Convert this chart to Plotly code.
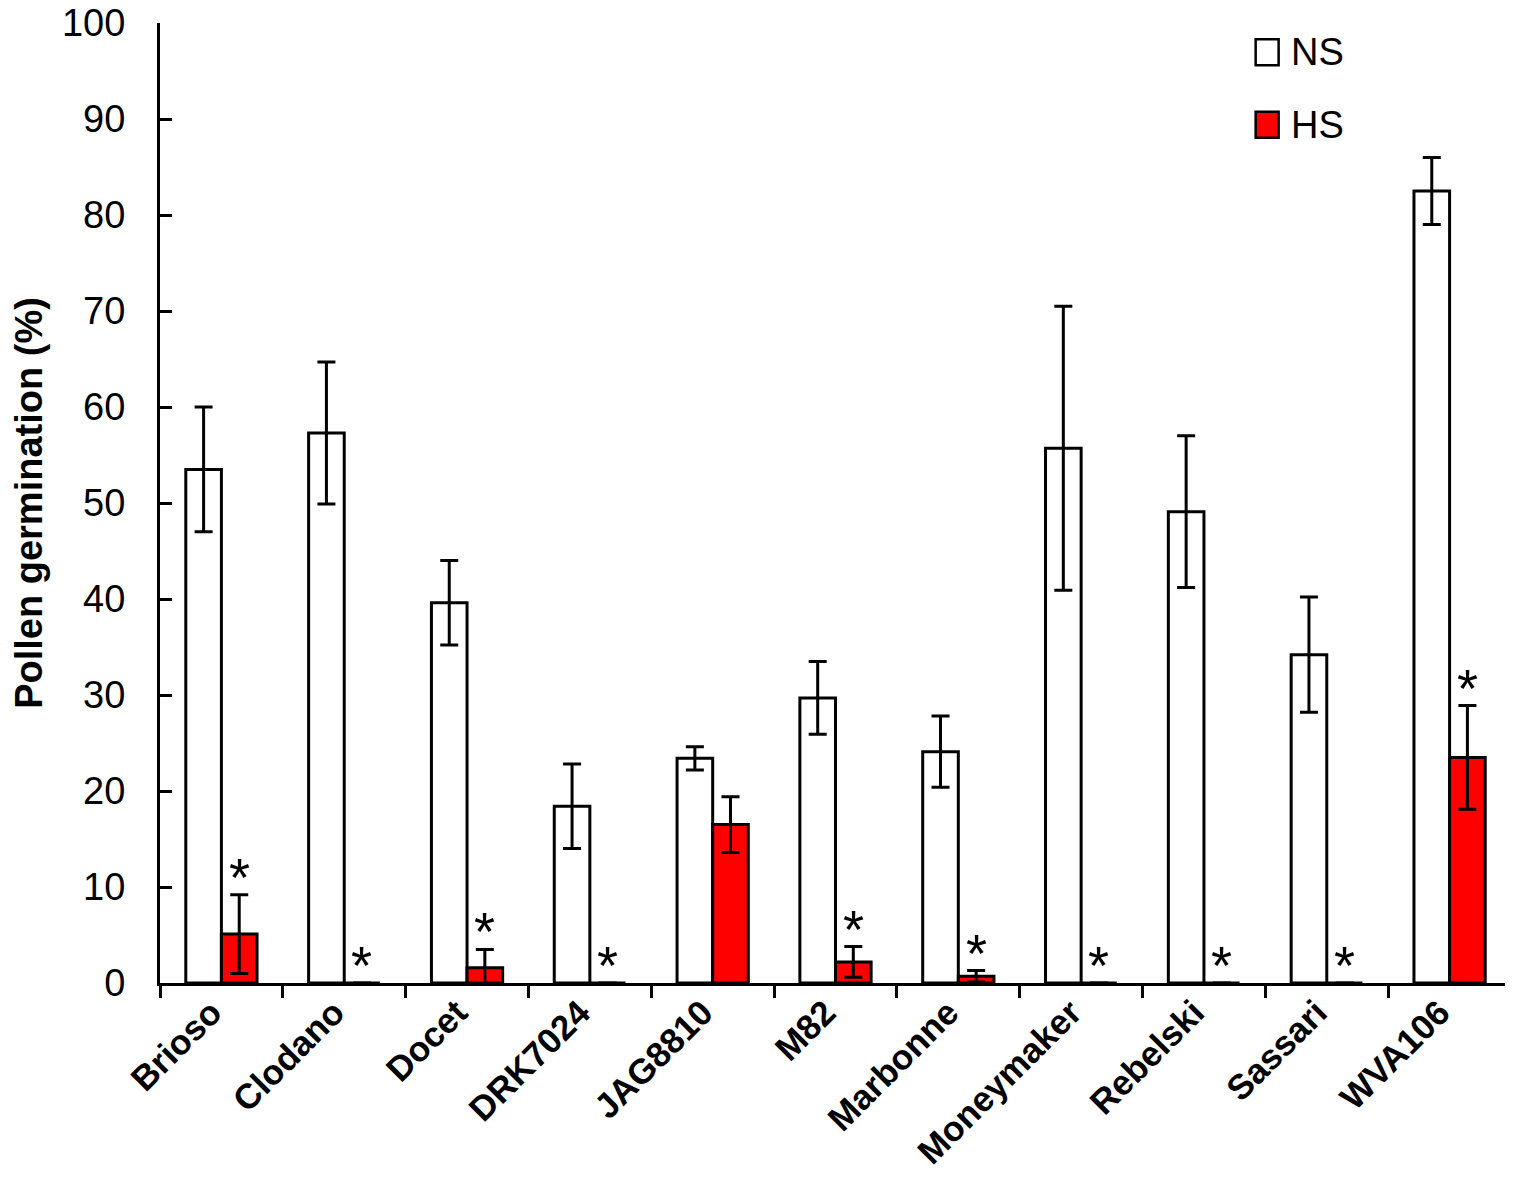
import plotly.graph_objects as go

# Pollen germination (%) under normal (NS) and heat stress (HS)
cultivars = ["Brioso", "Clodano", "Docet", "DRK7024", "JAG8810", "M82",
             "Marbonne", "Moneymaker", "Rebelski", "Sassari", "WVA106"]
ns_mean = [53.5, 57.3, 39.6, 18.4, 23.4, 29.7, 24.1, 55.7, 49.1, 34.2, 82.5]
ns_err = [6.5, 7.4, 4.4, 4.4, 1.2, 3.8, 3.7, 14.8, 7.9, 6.0, 3.5]
hs_mean = [5.1, 0, 1.6, 0, 16.5, 2.2, 0.7, 0, 0, 0, 23.5]
hs_err = [4.1, 0, 1.9, 0, 2.9, 1.6, 0.6, 0, 0, 0, 5.4]
hs_signif = [True, True, True, True, False, True, True, True, True, True, True]

series_names = ["NS", "HS"]
series_colors = ["white", "#ff0000"]

FONT = "Arial, Liberation Sans, sans-serif"

fig = go.Figure()
for name, color, mean, err in zip(series_names, series_colors,
                                  [ns_mean, hs_mean], [ns_err, hs_err]):
    fig.add_trace(go.Bar(
        x=cultivars, y=mean, name=name,
        marker=dict(color=color, line=dict(color="black", width=3)),
        error_y=dict(type="data", array=err, color="black", thickness=3, width=9),
    ))

# asterisks above the HS bars that differ from NS
for c, m, e, s in zip(cultivars, hs_mean, hs_err, hs_signif):
    if s:
        fig.add_annotation(x=c, y=m + e, text="*", showarrow=False,
                           xshift=17.7, yshift=18, yanchor="middle",
                           font=dict(family=FONT, size=54, color="black"))

# legend drawn as boxes + labels (top right)
for i, (name, color) in enumerate(zip(series_names, series_colors)):
    y0 = 0.956 - i * 0.0755
    fig.add_shape(type="rect", xref="paper", yref="paper",
                  x0=0.811, x1=0.828, y0=y0, y1=y0 + 0.027,
                  fillcolor=color, line=dict(color="black", width=2.5))
    fig.add_annotation(xref="paper", yref="paper", x=0.836, y=y0 + 0.0135,
                       xanchor="left", yanchor="middle", text=name,
                       showarrow=False,
                       font=dict(family=FONT, size=38, color="black"))

# page body adds an 8px margin, so the figure is 8px smaller
fig.update_layout(
    width=1505, height=1169,
    margin=dict(l=152, r=2, t=15, b=194),
    plot_bgcolor="white", paper_bgcolor="white",
    barmode="group", bargap=0.42, bargroupgap=0,
    font=dict(family=FONT, color="black"),
    showlegend=False,
)
fig.update_xaxes(
    automargin=False,
    showline=True, linecolor="black", linewidth=3,
    ticks="outside", ticklen=12, tickwidth=3, tickcolor="black",
    tickson="boundaries", tickangle=-45,
    ticklabelshift=-10, ticklabelstandoff=-8,
    tickfont=dict(family=FONT, size=35, color="black", weight="bold"),
)
fig.update_yaxes(
    automargin=False,
    range=[0, 100], dtick=10, showgrid=False, zeroline=False,
    showline=True, linecolor="black", linewidth=3,
    ticks="inside", ticklen=12, tickwidth=3, tickcolor="black",
    ticklabelstandoff=24, ticklabeloverflow="allow",
    tickfont=dict(family=FONT, size=38, color="black"),
    title=dict(text="Pollen germination (%)", standoff=22,
               font=dict(family=FONT, size=38, color="black", weight="bold")),
)

fig.write_html("out.html")
